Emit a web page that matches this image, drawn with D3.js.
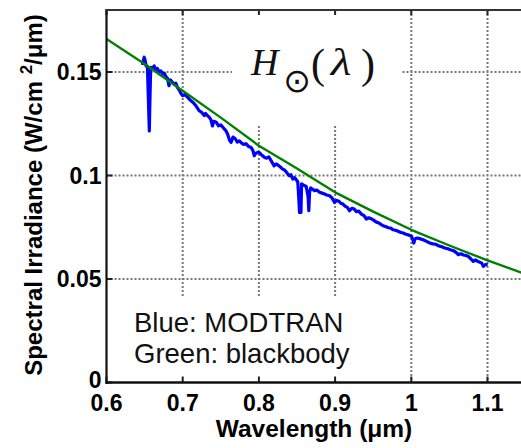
<!DOCTYPE html>
<html>
<head>
<meta charset="utf-8">
<script src="https://cdn.jsdelivr.net/npm/d3@7/dist/d3.min.js"></script>
<style>
  html, body { margin: 0; padding: 0; background: #fff; }
  svg { display: block; }
</style>
</head>
<body>
<svg id="chart" width="521" height="448"></svg>
<script>
// Axis ticks
const xTicks = [0.6, 0.7, 0.8, 0.9, 1.0, 1.1];
const xTickLabels = ["0.6", "0.7", "0.8", "0.9", "1", "1.1"];
const yTicks = [0, 0.05, 0.1, 0.15];
const yTickLabels = ["0", "0.05", "0.1", "0.15"];

// Blackbody curve (W/cm^2/um)
const blackbodyWl  = [0.60, 0.65, 0.70, 0.75, 0.80, 0.85, 0.90, 0.95, 1.00, 1.05, 1.10, 1.15, 1.20];
const blackbodyIrr = [0.1660, 0.1539, 0.1410, 0.1280, 0.1144, 0.1034, 0.0919, 0.0826, 0.0738, 0.0662, 0.0590, 0.0524, 0.0467];

// MODTRAN solar spectrum (W/cm^2/um)
const modtranWl = [
  0.647, 0.6495, 0.6505, 0.652, 0.6537, 0.6555, 0.6562, 0.6568, 0.658, 0.660,
  0.6625, 0.6645, 0.6668, 0.669, 0.6713, 0.674, 0.676, 0.678, 0.680, 0.682,
  0.684, 0.6866, 0.689, 0.691, 0.693, 0.696, 0.698, 0.700, 0.703, 0.706,
  0.709, 0.711, 0.714, 0.7174, 0.720, 0.7217, 0.725, 0.7283, 0.730, 0.732,
  0.735, 0.737, 0.739, 0.741, 0.744, 0.747, 0.750, 0.753, 0.7568, 0.759,
  0.7615, 0.7634, 0.766, 0.769, 0.7715, 0.7743, 0.777, 0.780, 0.783, 0.786,
  0.7897, 0.792, 0.794, 0.796, 0.7984, 0.801, 0.804, 0.8072, 0.810, 0.813,
  0.816, 0.820, 0.823, 0.826, 0.8285, 0.8313, 0.834, 0.837, 0.840, 0.842,
  0.8445, 0.847, 0.849, 0.851, 0.8525, 0.8533, 0.854, 0.8552, 0.856, 0.858,
  0.8599, 0.862, 0.8645, 0.8655, 0.8665, 0.868, 0.870, 0.873, 0.876, 0.8796,
  0.883, 0.8862, 0.889, 0.8928, 0.896, 0.8993, 0.902, 0.905, 0.9075, 0.9103,
  0.913, 0.916, 0.919, 0.922, 0.925, 0.928, 0.931, 0.9345, 0.938, 0.941,
  0.944, 0.947, 0.950, 0.9542, 0.957, 0.960, 0.963, 0.966, 0.970, 0.973,
  0.976, 0.979, 0.982, 0.9855, 0.9892, 0.993, 0.997, 1.0003, 1.002, 1.0033,
  1.005, 1.008, 1.012, 1.0155, 1.020, 1.0243, 1.028, 1.032, 1.036, 1.040,
  1.044, 1.048, 1.052, 1.056, 1.0595, 1.0616, 1.065, 1.0685, 1.0715, 1.0747,
  1.078, 1.0813, 1.084, 1.087, 1.0924, 1.0945, 1.097, 1.1003
];
const modtranIrr = [
  0.1535, 0.1572, 0.1560, 0.1530, 0.1528, 0.1300, 0.1216, 0.1330, 0.1523, 0.1518,
  0.1530, 0.1512, 0.1518, 0.1500, 0.1506, 0.1490, 0.1494, 0.1478, 0.1470, 0.1434,
  0.1462, 0.1450, 0.1440, 0.1446, 0.1426, 0.1410, 0.1395, 0.1386, 0.1392, 0.1380,
  0.1368, 0.1361, 0.1352, 0.1337, 0.1322, 0.1313, 0.1305, 0.1290, 0.1300, 0.1292,
  0.1281, 0.1270, 0.1240, 0.1262, 0.1258, 0.1240, 0.1245, 0.1232, 0.1216, 0.1200,
  0.1170, 0.1160, 0.1186, 0.1178, 0.1162, 0.1168, 0.1158, 0.1150, 0.1154, 0.1142,
  0.1136, 0.1122, 0.1096, 0.1108, 0.1112, 0.1110, 0.1098, 0.1088, 0.1084, 0.1090,
  0.1072, 0.1047, 0.1056, 0.1048, 0.1040, 0.1031, 0.1026, 0.1012, 0.0999, 0.1004,
  0.0983, 0.0990, 0.0980, 0.0970, 0.0880, 0.0822, 0.0850, 0.0822, 0.0960, 0.0955,
  0.0951, 0.0948, 0.0900, 0.0830, 0.0920, 0.0940, 0.0935, 0.0927, 0.0930, 0.0919,
  0.0915, 0.0911, 0.0906, 0.0902, 0.0892, 0.0870, 0.0880, 0.0876, 0.0866, 0.0862,
  0.0852, 0.0846, 0.0830, 0.0842, 0.0838, 0.0826, 0.0828, 0.0814, 0.0806, 0.0790,
  0.0796, 0.0792, 0.0786, 0.0775, 0.0772, 0.0764, 0.0758, 0.0754, 0.0748, 0.0746,
  0.0738, 0.0736, 0.0732, 0.0726, 0.0722, 0.0716, 0.0712, 0.0706, 0.0690, 0.0674,
  0.0695, 0.0698, 0.0694, 0.0690, 0.0682, 0.0674, 0.0670, 0.0668, 0.0660, 0.0656,
  0.0650, 0.0646, 0.0640, 0.0636, 0.0626, 0.0618, 0.0622, 0.0616, 0.0614, 0.0610,
  0.0598, 0.0585, 0.0592, 0.0586, 0.0577, 0.0561, 0.0570, 0.0569
];

const W = 521, H = 448;
const plotLeft = 106.5, plotTop = 10, plotBottom = 382.5;
const sansFont = "'Liberation Sans', Arial, sans-serif";
const svg = d3.select("#chart");

svg.append("rect").attr("width", W).attr("height", H).attr("fill", "#fff");

const x = d3.scaleLinear().domain([0.6, 1.2]).range([plotLeft, plotLeft + 6 * 76.2]);
const y = d3.scaleLinear().domain([0, 0.18]).range([plotBottom, plotTop]);

svg.append("defs").append("clipPath").attr("id", "plotClip")
  .append("rect").attr("x", plotLeft).attr("y", plotTop)
  .attr("width", W - plotLeft).attr("height", plotBottom - plotTop);

// Dotted grid, one path per direction
const gridX = xTicks.slice(1).map(v => `M${x(v)},${plotTop}V${plotBottom}`).join("");
const gridY = yTicks.slice(1).map(v => `M${plotLeft},${y(v)}H${W}`).join("");
svg.append("path").attr("d", gridX + gridY).attr("fill", "none")
  .attr("stroke", "#777").attr("stroke-width", 2).attr("stroke-dasharray", "2 2");

// Text boxes (white backgrounds over the grid)
svg.append("rect").attr("x", 232).attr("y", plotTop + 1).attr("width", 169).attr("height", 114).attr("fill", "#fff");
svg.append("rect").attr("x", 126).attr("y", 296).attr("width", 232).attr("height", plotBottom - 296).attr("fill", "#fff");

// Title: H with a solar subscript, as a function of lambda
const serif = "'Liberation Serif', 'DejaVu Serif', serif";
svg.append("text").attr("x", 251).attr("y", 75).attr("font-size", 38).attr("font-style", "italic")
  .attr("font-family", serif).attr("fill", "#111").text("H");
svg.append("text").attr("x", 297).attr("y", 92).attr("font-size", 33).attr("text-anchor", "middle")
  .attr("font-family", "'DejaVu Sans', sans-serif").attr("fill", "#111").text("\u2299");
svg.append("text").attr("x", 311).attr("y", 78).attr("font-size", 42)
  .attr("font-family", serif).attr("fill", "#111").text("(");
svg.append("text").attr("transform", "translate(341,75) scale(1.25,1)").attr("font-size", 38)
  .attr("font-style", "italic").attr("text-anchor", "middle")
  .attr("font-family", serif).attr("fill", "#111").text("\u03bb");
svg.append("text").attr("x", 361).attr("y", 78).attr("font-size", 42)
  .attr("font-family", serif).attr("fill", "#111").text(")");

// Legend text
svg.append("text").attr("x", 134).attr("y", 331.5).attr("font-family", sansFont)
  .attr("font-size", 27.5).attr("fill", "#111").text("Blue: MODTRAN");
svg.append("text").attr("x", 134).attr("y", 362.5).attr("font-family", sansFont)
  .attr("font-size", 27.5).attr("fill", "#111").text("Green: blackbody");

// Curves
const line = d3.line().x(d => x(d[0])).y(d => y(d[1]));
const plot = svg.append("g").attr("clip-path", "url(#plotClip)");
plot.append("path").datum(d3.zip(modtranWl, modtranIrr))
  .attr("d", line).attr("fill", "none").attr("stroke", "#0000ff")
  .attr("stroke-width", 3.2).attr("stroke-linejoin", "round");
plot.append("path").datum(d3.zip(blackbodyWl, blackbodyIrr))
  .attr("d", line).attr("fill", "none").attr("stroke", "#008000")
  .attr("stroke-width", 2.4).attr("stroke-linejoin", "round");

// Inward tick marks (bottom, top, left)
const tickPath =
  xTicks.map(v => `M${x(v)},${plotBottom}v-6`).join("") +
  xTicks.map(v => `M${x(v)},${plotTop}v5`).join("") +
  yTicks.map(v => `M${plotLeft},${y(v)}h6`).join("");
svg.append("path").attr("d", tickPath).attr("fill", "none")
  .attr("stroke", "#222").attr("stroke-width", 2);

// Tick labels
svg.append("g").selectAll("text").data(xTicks).join("text")
  .attr("x", d => x(d)).attr("y", plotBottom + 28.5).attr("text-anchor", "middle")
  .attr("font-family", sansFont).attr("font-weight", "bold").attr("font-size", 23)
  .text((d, i) => xTickLabels[i]);
svg.append("g").selectAll("text").data(yTicks).join("text")
  .attr("x", plotLeft - 5).attr("y", d => y(d) + (d === 0 ? 5 : 8.2)).attr("text-anchor", "end")
  .attr("font-family", sansFont).attr("font-weight", "bold").attr("font-size", 23)
  .text((d, i) => yTickLabels[i]);

// Axis box lines
svg.append("path").attr("d", `M${plotLeft},${plotTop - 1}V${plotBottom + 1.5}`)
  .attr("stroke", "#111").attr("stroke-width", 2.2);
svg.append("path").attr("d", `M${plotLeft - 1},${plotBottom}H${W}`)
  .attr("stroke", "#111").attr("stroke-width", 2.6);
svg.append("path").attr("d", `M${plotLeft - 1},${plotTop}H${W}`)
  .attr("stroke", "#333").attr("stroke-width", 2);

// Axis titles
svg.append("text").attr("x", 314).attr("y", 437)
  .attr("text-anchor", "middle").attr("font-family", sansFont)
  .attr("font-weight", "bold").attr("font-size", 24.5).text("Wavelength (\u03bcm)");

const yl = svg.append("text").attr("transform", "translate(42,195) rotate(-90)")
  .attr("text-anchor", "middle").attr("font-family", sansFont)
  .attr("font-weight", "bold").attr("font-size", 24);
yl.append("tspan").text("Spectral Irradiance (W/cm ");
yl.append("tspan").attr("dy", -10).attr("font-size", 17).text("2");
yl.append("tspan").attr("dy", 10).text("/\u03bcm)");
</script>
</body>
</html>
